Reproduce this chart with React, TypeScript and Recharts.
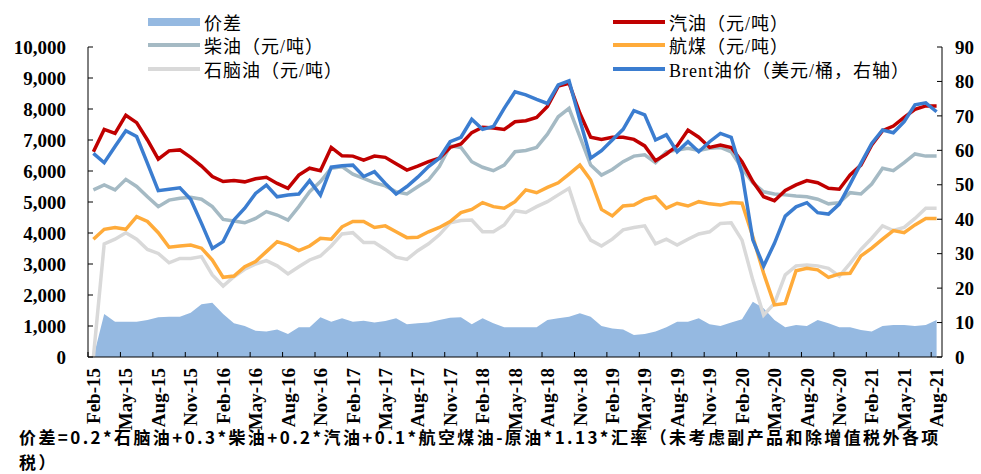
import React from 'react'
import { ComposedChart, Area, Line, XAxis, YAxis } from 'recharts'

// monthly, Feb-15 .. Aug-21
const months = [
  'Feb-15', 'Mar-15', 'Apr-15', 'May-15', 'Jun-15', 'Jul-15', 'Aug-15', 'Sep-15', 'Oct-15', 'Nov-15', 'Dec-15',
  'Jan-16', 'Feb-16', 'Mar-16', 'Apr-16', 'May-16', 'Jun-16', 'Jul-16', 'Aug-16', 'Sep-16', 'Oct-16', 'Nov-16', 'Dec-16',
  'Jan-17', 'Feb-17', 'Mar-17', 'Apr-17', 'May-17', 'Jun-17', 'Jul-17', 'Aug-17', 'Sep-17', 'Oct-17', 'Nov-17', 'Dec-17',
  'Jan-18', 'Feb-18', 'Mar-18', 'Apr-18', 'May-18', 'Jun-18', 'Jul-18', 'Aug-18', 'Sep-18', 'Oct-18', 'Nov-18', 'Dec-18',
  'Jan-19', 'Feb-19', 'Mar-19', 'Apr-19', 'May-19', 'Jun-19', 'Jul-19', 'Aug-19', 'Sep-19', 'Oct-19', 'Nov-19', 'Dec-19',
  'Jan-20', 'Feb-20', 'Mar-20', 'Apr-20', 'May-20', 'Jun-20', 'Jul-20', 'Aug-20', 'Sep-20', 'Oct-20', 'Nov-20', 'Dec-20',
  'Jan-21', 'Feb-21', 'Mar-21', 'Apr-21', 'May-21', 'Jun-21', 'Jul-21', 'Aug-21',
]

// 价差 (元/吨)
const spread = [
  0, 1390, 1140, 1140, 1140, 1190, 1280, 1300, 1300, 1430, 1700, 1750, 1390, 1090, 1000, 850, 820, 890, 740, 960,
  960, 1280, 1140, 1250, 1140, 1170, 1110, 1160, 1250, 1060, 1090, 1110, 1190, 1270, 1280, 1060, 1250, 1090, 960, 960,
  960, 960, 1190, 1250, 1300, 1410, 1300, 1000, 920, 890, 710, 740, 820, 960, 1140, 1140, 1250, 1060, 1000,
  1110, 1220, 1780, 1570, 1190, 960, 1030, 1000, 1190, 1090, 960, 960, 870, 820, 1000, 1030, 1030, 1000, 1030, 1190,
]

// 汽油 (元/吨)
const gasoline = [
  6620, 7340, 7215, 7800, 7560, 7000, 6380, 6650, 6680, 6440, 6160, 5820, 5660, 5690, 5650, 5750, 5800, 5600, 5440, 5870,
  6090, 6010, 6760, 6490, 6480, 6350, 6480, 6440, 6230, 6030, 6160, 6300, 6410, 6760, 6870, 7240, 7410, 7390, 7340, 7590,
  7620, 7730, 8080, 8740, 8830, 7860, 7090, 7020, 7090, 7090, 7020, 6810, 6330, 6550, 6810, 7320, 7090, 6760, 6840,
  6760, 6300, 5660, 5170, 5040, 5370, 5550, 5690, 5620, 5440, 5410, 5870, 6190, 6840, 7300, 7450, 7730, 7990, 8100, 8100,
]

// 柴油 (元/吨)
const diesel = [
  5390, 5550, 5390, 5730, 5500, 5170, 4850, 5060, 5120, 5150, 5090, 4850, 4440, 4390, 4330, 4470, 4690, 4580, 4420, 4850,
  5330, 5660, 6090, 6140, 5900, 5760, 5620, 5520, 5330, 5260, 5490, 5710, 6140, 6810, 6760, 6300, 6120, 6010, 6190, 6620,
  6660, 6760, 7190, 7750, 8020, 7110, 6190, 5870, 6050, 6300, 6480, 6520, 6270, 6620, 6680, 6730, 6660, 6730, 6760,
  6620, 6090, 5620, 5330, 5260, 5230, 5190, 5170, 5090, 4940, 4980, 5300, 5260, 5580, 6090, 6010, 6270, 6550, 6480, 6480,
]

// 航煤 (元/吨)
const jetFuel = [
  3800, 4120, 4180, 4120, 4530, 4370, 4010, 3540, 3580, 3610, 3510, 3130, 2570, 2610, 2910, 3080, 3400, 3720, 3610, 3430,
  3580, 3830, 3800, 4200, 4370, 4370, 4180, 4230, 4040, 3850, 3860, 4040, 4180, 4370, 4660, 4760, 4980, 4850, 4800, 5010,
  5390, 5300, 5470, 5620, 5900, 6190, 5710, 4760, 4550, 4870, 4900, 5090, 5170, 4800, 4960, 4870, 5010, 4940, 4900,
  4980, 4960, 3880, 2700, 1680, 1730, 2780, 2860, 2810, 2570, 2680, 2700, 3260, 3510, 3800, 4080, 4010, 4260, 4470, 4470,
]

// 石脑油 (元/吨)
const naphtha = [
  0, 3650, 3800, 4010, 3800, 3470, 3340, 3040, 3180, 3180, 3240, 2650, 2290, 2590, 2830, 3000, 3110, 2940, 2680, 2910,
  3130, 3260, 3580, 3970, 4010, 3690, 3690, 3470, 3220, 3150, 3430, 3650, 3940, 4330, 4400, 4420, 4040, 4040, 4260, 4720,
  4660, 4850, 5010, 5230, 5440, 4370, 3770, 3580, 3800, 4100, 4180, 4230, 3650, 3800, 3610, 3800, 3970, 4040, 4310,
  4330, 3770, 2480, 1350, 1730, 2650, 2940, 2970, 2940, 2860, 2610, 3020, 3470, 3830, 4230, 4080, 4180, 4470, 4800, 4800,
]

// Brent (美元/桶, right axis)
const brent = [
  59.1, 56.4, 61.1, 65.7, 64.0, 56.2, 48.3, 48.7, 49.1, 45.8, 38.8, 31.5, 33.5, 39.8, 43.2, 47.5, 49.9, 46.5, 47.0, 47.3,
  51.2, 47.0, 55.1, 55.5, 55.7, 52.4, 53.8, 50.4, 47.3, 49.5, 52.2, 55.3, 57.7, 62.5, 63.8, 69.0, 66.1, 66.9, 72.2, 77.0,
  76.1, 74.8, 73.6, 79.0, 80.2, 68.8, 57.7, 59.9, 63.0, 66.1, 71.5, 70.3, 63.0, 64.5, 59.6, 62.5, 59.6, 62.5, 64.9,
  63.8, 53.3, 34.0, 26.4, 33.0, 40.9, 43.6, 44.8, 41.9, 41.5, 44.4, 50.2, 56.2, 62.0, 65.9, 65.1, 68.3, 73.2, 73.8, 71.2,
]

const leftTicks = [0, 1000, 2000, 3000, 4000, 5000, 6000, 7000, 8000, 9000, 10000]
const rightTicks = [0, 10, 20, 30, 40, 50, 60, 70, 80, 90]

const data = months.map((m, i) => ({
  month: m,
  spread: spread[i],
  gasoline: gasoline[i],
  diesel: diesel[i],
  jetFuel: jetFuel[i],
  naphtha: naphtha[i],
  brent: brent[i],
}))

const W = 981
const H = 474
const PLOT_L = 88
const PLOT_R = 942
const PLOT_T = 47
const PLOT_B = 357
const STEP = (PLOT_R - PLOT_L) / months.length

const C = {
  spread: '#95B9E1',
  gasoline: '#C00000',
  diesel: '#A5BAC4',
  jetFuel: '#FFAB3A',
  naphtha: '#D9D9D9',
  brent: '#3B7DD0',
}

const numFont = '"Times New Roman", "Liberation Serif", serif'
const cjkFont = '"Times New Roman", "Liberation Serif", "Noto Sans CJK SC", serif'

const fmt = (v: number) => String(v).replace(/\B(?=(\d{3})+(?!\d))/g, ',')

function LeftTick({ y, payload }: any) {
  return (
    <g>
      <line x1={PLOT_L} x2={PLOT_L + 5} y1={y} y2={y} stroke="#000" />
      <text x={PLOT_L - 22} y={y} dy="0.35em" textAnchor="end" fontFamily={numFont} fontWeight="bold" fontSize={19} fill="#000">
        {fmt(payload.value)}
      </text>
    </g>
  )
}

function RightTick({ y, payload }: any) {
  return (
    <g>
      <line x1={PLOT_R - 5} x2={PLOT_R} y1={y} y2={y} stroke="#000" />
      <text x={PLOT_R + 13} y={y} dy="0.35em" textAnchor="start" fontFamily={numFont} fontWeight="bold" fontSize={19} fill="#000">
        {payload.value}
      </text>
    </g>
  )
}

function MonthTick({ x, payload }: any) {
  const tx = x - STEP / 2
  return (
    <g>
      <line x1={tx} x2={tx} y1={PLOT_B} y2={PLOT_B - 5} stroke="#000" />
      <text transform={`translate(${x},${PLOT_B + 11}) rotate(-90)`} dy="0.35em" textAnchor="end" fontFamily={numFont} fontWeight="bold" fontSize={19} fill="#000">
        {payload.value}
      </text>
    </g>
  )
}

const legendLeft = [
  { name: '价差', color: C.spread, area: true },
  { name: '柴油（元/吨）', color: C.diesel },
  { name: '石脑油（元/吨）', color: C.naphtha },
]
const legendRight = [
  { name: '汽油（元/吨）', color: C.gasoline },
  { name: '航煤（元/吨）', color: C.jetFuel },
  { name: 'Brent油价（美元/桶，右轴）', color: C.brent },
]
const legendRows = [22, 45, 69]

function LegendCol({ items, x }: { items: any[]; x: number }) {
  return (
    <>
      {items.map((it, i) => (
        <div key={it.name} style={{ position: 'absolute', left: x, top: legendRows[i] - 12, height: 24, display: 'flex', alignItems: 'center' }}>
          <div style={{ width: 52, height: it.area ? 8 : 4, background: it.color, marginRight: 4 }} />
          <span style={{ fontFamily: cjkFont, fontSize: 18, letterSpacing: 1, color: '#000', whiteSpace: 'nowrap' }}>{it.name}</span>
        </div>
      ))}
    </>
  )
}

export default function App() {
  return (
    <div style={{ position: 'absolute', left: 0, top: 0, width: W, height: H, background: '#fff', overflow: 'hidden' }}>
      <ComposedChart width={W} height={H} data={data} margin={{ top: PLOT_T, right: 0, bottom: 0, left: 0 }}>
        <XAxis
          dataKey="month"
          scale="point"
          padding={{ left: STEP / 2, right: STEP / 2 }}
          interval={2}
          height={H - PLOT_B}
          tickLine={false}
          axisLine={{ stroke: '#000' }}
          tick={<MonthTick />}
        />
        <YAxis
          yAxisId="left"
          width={PLOT_L}
          domain={[0, 10000]}
          ticks={leftTicks}
          tickLine={false}
          axisLine={{ stroke: '#000' }}
          tick={<LeftTick />}
        />
        <YAxis
          yAxisId="right"
          orientation="right"
          width={W - PLOT_R}
          domain={[0, 90]}
          ticks={rightTicks}
          tickLine={false}
          axisLine={{ stroke: '#000' }}
          tick={<RightTick />}
        />
        <Area yAxisId="left" dataKey="spread" type="linear" stroke="none" fill={C.spread} fillOpacity={1} isAnimationActive={false} />
        <Line yAxisId="left" dataKey="naphtha" type="linear" stroke={C.naphtha} strokeWidth={3.5} dot={false} isAnimationActive={false} />
        <Line yAxisId="left" dataKey="jetFuel" type="linear" stroke={C.jetFuel} strokeWidth={3.5} dot={false} isAnimationActive={false} />
        <Line yAxisId="left" dataKey="diesel" type="linear" stroke={C.diesel} strokeWidth={3.5} dot={false} isAnimationActive={false} />
        <Line yAxisId="left" dataKey="gasoline" type="linear" stroke={C.gasoline} strokeWidth={3.5} dot={false} isAnimationActive={false} />
        <Line yAxisId="right" dataKey="brent" type="linear" stroke={C.brent} strokeWidth={3.5} dot={false} isAnimationActive={false} />
      </ComposedChart>
      <LegendCol items={legendLeft} x={148} />
      <LegendCol items={legendRight} x={613} />
      <div style={{ position: 'absolute', left: 19, top: 424, fontFamily: '"Noto Sans CJK SC", sans-serif', fontWeight: 'bold', fontSize: 17, lineHeight: '25px', letterSpacing: 2.4, color: '#000', whiteSpace: 'nowrap' }}>
        <div>价差=0.2*石脑油+0.3*柴油+0.2*汽油+0.1*航空煤油-原油*1.13*汇率（未考虑副产品和除增值税外各项</div>
        <div>税）</div>
      </div>
    </div>
  )
}
